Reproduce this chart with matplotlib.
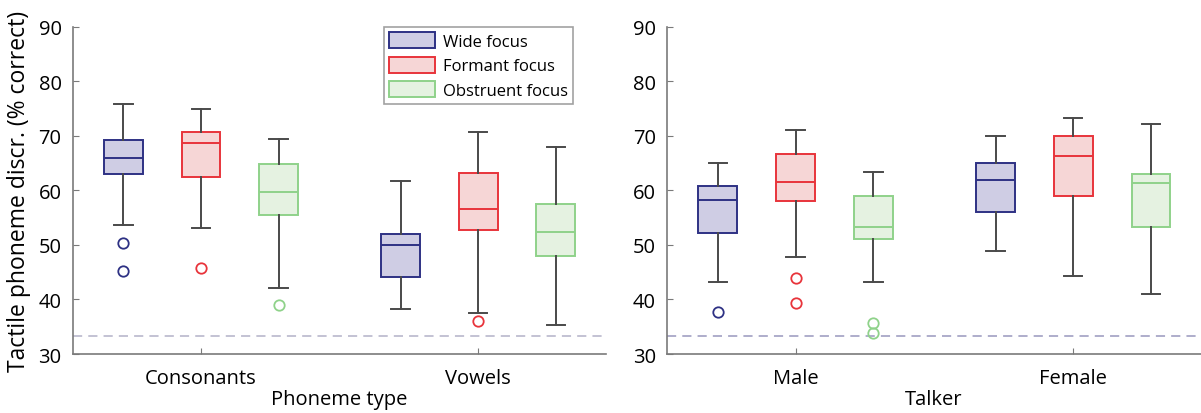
import numpy as np
import matplotlib
matplotlib.use("Agg")
import matplotlib.pyplot as plt
from matplotlib.patches import Patch

plt.rcParams['font.family'] = ['Open Sans', 'DejaVu Sans']

# ==========================================================
# DATA
# ==========================================================

conditions = ["Wide focus", "Formant focus", "Obstruent focus"]

phoneme_labels = ["Consonants", "Vowels"]
# per group, per condition: (whislo, q1, med, q3, whishi)
phoneme_stats = [
    [(53.7, 63.0, 66.0, 69.2, 75.9),
     (53.2, 62.5, 68.8, 70.8, 75.0),
     (42.1, 55.5, 59.7, 64.8, 69.4)],
    [(38.2, 44.1, 50.0, 52.0, 61.7),
     (37.5, 52.8, 56.6, 63.2, 70.8),
     (35.4, 47.9, 52.4, 57.6, 68.0)],
]
phoneme_fliers = [
    [[50.45, 45.3], [45.8], [38.9]],
    [[], [36.1], []],
]

talker_labels = ["Male", "Female"]
talker_stats = [
    [(43.2, 52.2, 58.3, 60.8, 65.0),
     (47.8, 58.0, 61.6, 66.6, 71.1),
     (43.2, 51.1, 53.3, 58.9, 63.3)],
    [(48.9, 56.1, 61.9, 65.0, 70.0),
     (44.4, 58.9, 66.4, 70.0, 73.3),
     (41.05, 53.3, 61.4, 63.1, 72.2)],
]
talker_fliers = [
    [[37.75], [43.9, 39.4], [35.6, 33.9]],
    [[], [], []],
]

chance = 100.0 / 3

# ==========================================================
# STYLE
# ==========================================================

edge_colors = ["#2e3184", "#e8343b", "#8fd28a"]
face_colors = ["#cfcde4", "#f6d6d6", "#e5f2e1"]
whisker_color = "#4a4a4a"
spine_color = "#7a7a7a"
offsets = [-0.28, 0.0, 0.28]
box_w = 0.14


def draw_panel(ax, labels, stats, fliers, xlabel, chance_color):
    for gi, label in enumerate(labels):
        for ci in range(len(conditions)):
            lo, q1, med, q3, hi = stats[gi][ci]
            s = dict(whislo=lo, q1=q1, med=med, q3=q3, whishi=hi,
                     fliers=fliers[gi][ci])
            ax.bxp([s], positions=[gi + 1 + offsets[ci]], widths=box_w,
                   patch_artist=True, showfliers=True, manage_ticks=False,
                   boxprops=dict(facecolor=face_colors[ci],
                                 edgecolor=edge_colors[ci], linewidth=1.4),
                   medianprops=dict(color=edge_colors[ci], linewidth=1.4),
                   whiskerprops=dict(color=whisker_color, linewidth=1.4),
                   capprops=dict(color=whisker_color, linewidth=1.4),
                   capwidths=0.066,
                   flierprops=dict(marker='o', markerfacecolor='none',
                                   markeredgecolor=edge_colors[ci],
                                   markersize=7.5, markeredgewidth=1.3))

    ax.axhline(chance, color=chance_color, linestyle=(0, (6, 4)),
               linewidth=1.1, zorder=0)

    ax.set_xlim(0.537, 2.46)
    ax.set_ylim(30, 90)
    ax.set_yticks(range(30, 91, 10))
    ax.set_xticks([1, 2])
    ax.set_xticklabels(labels)
    ax.set_xlabel(xlabel, fontsize=14.5, labelpad=1)

    for side in ["top", "right"]:
        ax.spines[side].set_visible(False)
    for side in ["left", "bottom"]:
        ax.spines[side].set_color(spine_color)
        ax.spines[side].set_linewidth(1.2)
    ax.tick_params(axis='both', direction='in', colors=spine_color,
                   labelcolor='black', labelsize=14.5, length=4)
    ax.tick_params(axis='x', pad=10)
    ax.tick_params(axis='y', pad=8)


fig = plt.figure(figsize=(12.01, 4.14), dpi=100, facecolor='white')
ax1 = fig.add_axes([0.0605, 0.1425, 0.4438, 0.79])
ax2 = fig.add_axes([0.5554, 0.1425, 0.4446, 0.79])

draw_panel(ax1, phoneme_labels, phoneme_stats, phoneme_fliers,
           "Phoneme type", "#b3b1c8")
draw_panel(ax2, talker_labels, talker_stats, talker_fliers,
           "Talker", "#9897bd")

ax1.set_ylabel("Tactile phoneme discr. (% correct)", fontsize=16.5, labelpad=5)

handles = [Patch(facecolor=face_colors[i], edgecolor=edge_colors[i],
                 linewidth=1.4, label=conditions[i]) for i in range(3)]
leg = ax1.legend(handles=handles, loc='upper left',
                 bbox_to_anchor=(0.584, 1.0), fontsize=12,
                 frameon=True, fancybox=False, handlelength=2.75,
                 handleheight=1.1, handletextpad=0.5, labelspacing=0.42,
                 borderpad=0.3, borderaxespad=0.0)
leg.get_frame().set_edgecolor("#8a8a8a")
leg.get_frame().set_linewidth(1.2)

fig.savefig("out.png", dpi=100, facecolor='white')
